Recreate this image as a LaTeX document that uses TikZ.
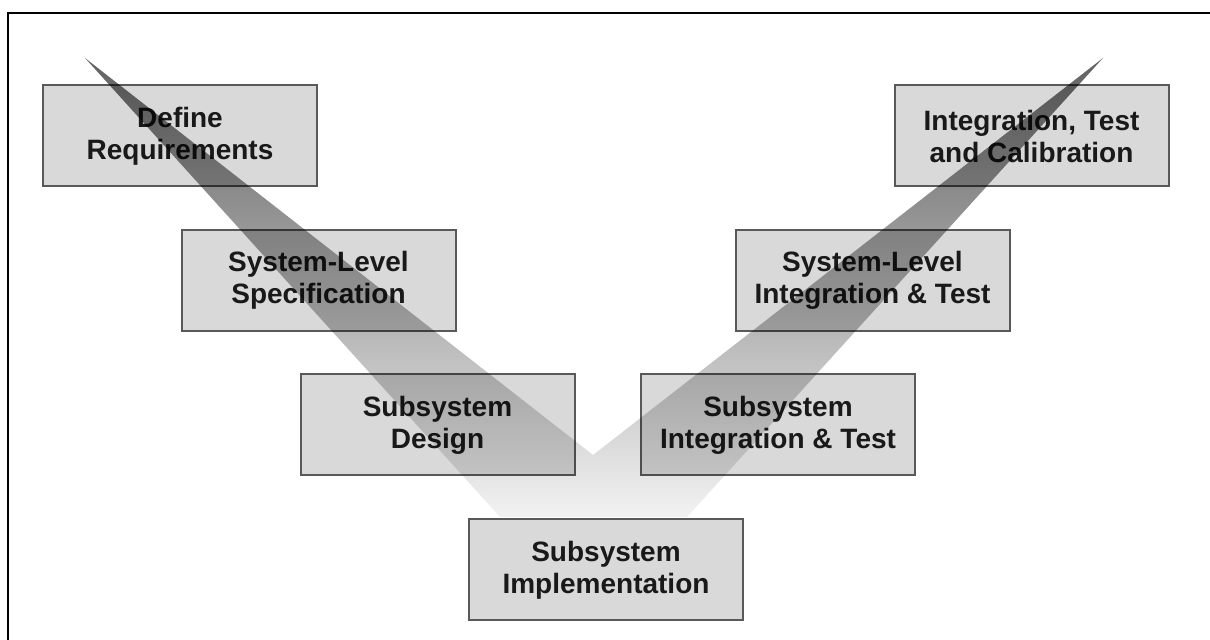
\documentclass[tikz,border=0pt]{standalone}
\usepackage{fontspec}
\setmainfont{Liberation Sans}
\usepackage{tikz}
\usetikzlibrary{shadings}

\tikzset{
  stagebox/.style={draw=black!65, line width=1pt, fill=black!15, text=black!90,
    minimum width=137pt, minimum height=50.5pt, align=center,
    font=\fontsize{14}{16}\selectfont\bfseries}
}

\begin{document}
\begin{tikzpicture}[x=0.5pt,y=-0.5pt]
                \useasboundingbox (0,0) rectangle (1210,640);
                \draw[line width=1pt](8,640)--(8,13)--(1210,13);
                \node[stagebox] (req) at (180,136) {Define\\Requirements};
                \node[stagebox] (sysspec) at (318.5,280.5) {System-Level\\Specification};
                \node[stagebox] (subdes) at (437.5,425) {Subsystem\\Design};
                \node[stagebox] (subimp) at (606,570) {Subsystem\\Implementation};
                \node[stagebox] (subint) at (778,425) {Subsystem\\Integration \& Test};
                \node[stagebox] (sysint) at (872.5,280.5) {System-Level\\Integration \& Test};
                \node[stagebox] (itc) at (1031.5,136) {Integration, Test\\and Calibration};
                % the V band over the boxes
                \coordinate (ltip) at (85,58);
                \coordinate (rtip) at (1103,58);
                \coordinate (notch) at (593,455);
                \begin{scope}[blend mode=multiply]
                \shade[top color=black!62, bottom color=black!5](ltip)--(500,517)--(687,517)--(rtip)--(notch)--cycle;
                \end{scope}
            \end{tikzpicture}
\end{document}
